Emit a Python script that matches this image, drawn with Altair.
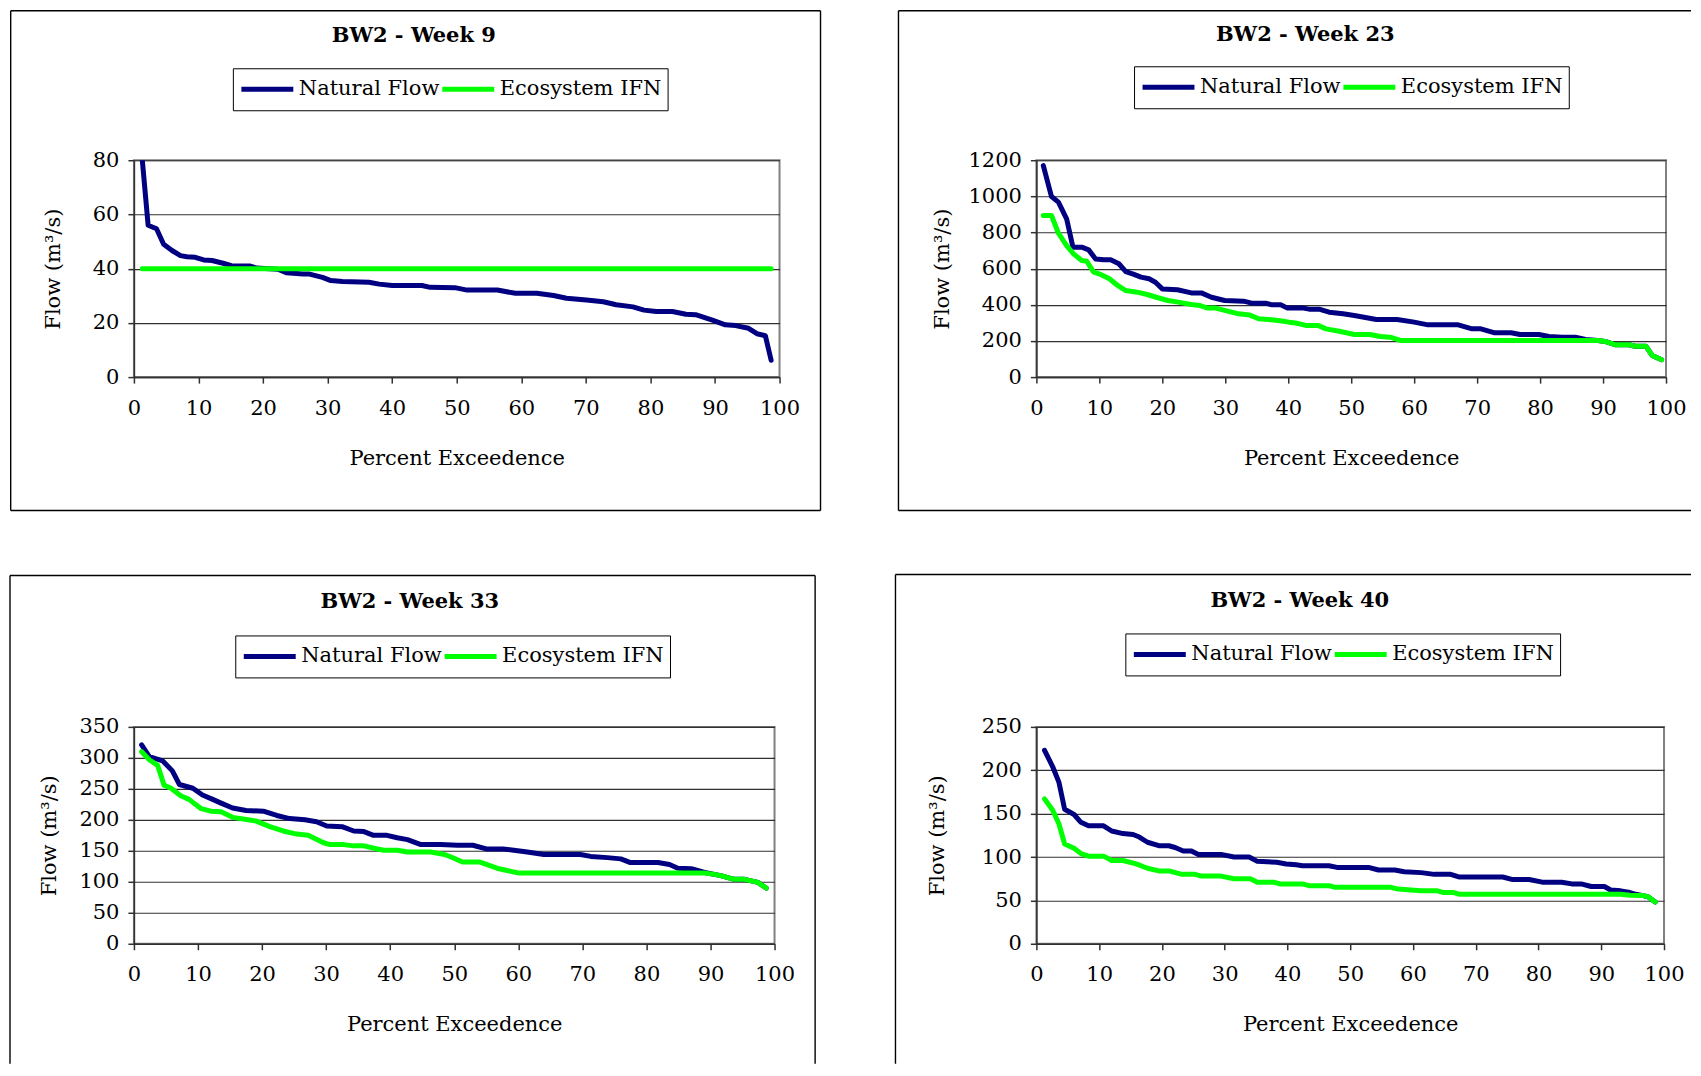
import altair as alt
import pandas as pd

FONT = "DejaVu Serif"
NAVY = "#000080"
GREEN = "#00FF00"
SERIES = ["Natural Flow", "Ecosystem IFN"]
TITLES = ["BW2 - Week 9", "BW2 - Week 23", "BW2 - Week 33", "BW2 - Week 40"]
X_TITLE = "Percent Exceedence"
Y_TITLE = "Flow (m³/s)"
X_TICKS = [0, 10, 20, 30, 40, 50, 60, 70, 80, 90, 100]
Y_TICKS_W9 = [0, 20, 40, 60, 80]
Y_TICKS_W23 = [0, 200, 400, 600, 800, 1000, 1200]
Y_TICKS_W33 = [0, 50, 100, 150, 200, 250, 300, 350]
Y_TICKS_W40 = [0, 50, 100, 150, 200, 250]

# ---- Week 9 ----
w9_nat_pct = [1.3, 2.2, 3.5, 4.6, 5.9, 7.2, 8.2, 9.5, 10.8, 12.1, 13.8, 15.1, 17.9, 19.0, 22.3,
              23.6, 26.2, 27.2, 29.2, 30.5, 32.3, 36.4, 38.0, 40.0, 44.6, 45.9, 49.7, 51.6, 56.3,
              59.1, 62.4, 65.0, 67.0, 70.1, 72.7, 74.7, 77.3, 79.0, 80.9, 83.4, 85.5, 87.0, 89.6,
              91.6, 93.2, 95.2, 96.5, 97.8, 98.7]
w9_nat_flow = [80, 56, 54.7, 49, 46.7, 44.8, 44.4, 44.2, 43.2, 43, 42, 41.1, 41, 40.2, 39.8,
               38.5, 38, 38, 36.8, 35.6, 35.3, 35, 34.3, 33.8, 33.8, 33.1, 33.0, 32.1, 32.1,
               30.9, 30.9, 30.1, 29.1, 28.4, 27.8, 26.7, 25.9, 24.7, 24.2, 24.2, 23.2, 23.0, 21.0,
               19.3, 19.0, 18.0, 16.0, 15.3, 6.2]
w9_ifn_pct = [1.3, 98.7]
w9_ifn_flow = [40, 40]

# ---- Week 23 ----
w23_nat_pct = [1.1, 2.4, 3.5, 4.8, 5.8, 7.2, 8.3, 9.4, 10.7, 11.8, 13.1, 14.2, 15.5, 16.6, 17.9,
               18.9, 20.0, 22.4, 24.6, 26.2, 27.8, 29.9, 32.9, 34.2, 36.4, 37.4, 38.8, 39.8, 42.2,
               43.3, 44.9, 46.5, 48.7, 50.5, 54.0, 57.3, 60.0, 62.2, 67.0, 69.2, 70.6, 72.8, 75.4,
               76.8, 79.8, 81.4, 83.5, 85.6, 87.2, 89.2, 90.3, 91.9, 94.1, 95.1, 96.8, 97.8, 99.3]
w23_nat_flow = [1170, 999, 968, 876, 719, 719, 704, 654, 649, 649, 627, 584, 568, 553, 544,
                525, 488, 483, 466, 466, 442, 424, 420, 409, 409, 400, 400, 383, 383,
                376, 376, 359, 350, 341, 319, 319, 304, 289, 289, 267, 267, 245, 245,
                236, 236, 225, 221, 221, 208, 203, 197, 179, 179, 171, 171, 120, 96]
w23_ifn_pct = [1.1, 2.4, 3.5, 4.8, 5.9, 7.2, 8.0, 9.1, 10.2, 11.6, 12.9, 14.2, 16.0, 17.6, 19.3,
               20.9, 22.5, 24.6, 26.0, 27.1, 28.3, 29.9, 32.1, 33.9, 35.3, 37.4, 39.0, 40.1, 41.2,
               42.8, 44.7, 46.0, 48.1, 50.5, 53.0, 54.6, 56.2, 57.8, 89.2, 90.3, 91.9, 94.1, 95.1,
               96.8, 97.8, 99.3]
w23_ifn_flow = [894, 894, 796, 728, 682, 645, 641, 581, 568, 544, 507, 479, 470, 457, 439,
                424, 415, 402, 396, 383, 383, 369, 350, 343, 323, 317, 310, 304, 299,
                286, 286, 267, 254, 236, 236, 225, 221, 203, 203, 197, 179, 179, 171,
                171, 120, 96]

# ---- Week 33 ----
w33_nat_pct = [1.2, 2.4, 4.5, 6.0, 7.1, 9.2, 10.7, 12.3, 13.6, 15.4, 17.5, 20.2, 22.3, 24.3, 26.7,
               28.5, 30.1, 32.5, 34.3, 35.9, 37.4, 39.5, 41.1, 42.7, 44.8, 47.9, 50.5, 52.9, 55.0,
               57.6, 59.3, 61.4, 64.0, 69.7, 71.3, 73.9, 76.0, 77.5, 81.8, 83.6, 84.9, 87.0, 89.1,
               90.6, 91.6, 93.7, 95.3, 97.4, 98.7]
w33_nat_flow = [321, 302, 295, 279, 257, 251, 240, 233, 227, 219, 215, 214, 207, 202, 200,
                197, 190, 189, 182, 181, 175, 175, 171, 168, 160, 160, 159, 159, 153,
                153, 151, 148, 144, 144, 141, 139, 137, 131, 131, 128, 122, 121, 115,
                112, 110, 104, 104, 99, 90]
w33_ifn_pct = [1.2, 2.4, 3.7, 4.7, 5.8, 7.3, 8.6, 10.5, 12.0, 13.6, 15.4, 17.8, 19.1, 21.2, 23.3,
               25.4, 27.2, 29.6, 30.6, 32.7, 34.3, 35.9, 38.0, 39.0, 41.1, 42.7, 46.3, 48.5, 49.5,
               51.3, 53.9, 57.0, 60.1, 89.1, 90.6, 91.6, 93.7, 95.3, 97.4, 98.7]
w33_ifn_flow = [310, 297, 288, 256, 251, 239, 233, 218, 214, 213, 204, 200, 198, 189, 182,
                177, 175, 163, 160, 160, 158, 158, 153, 151, 151, 148, 148, 144, 140,
                132, 132, 121, 114, 114, 112, 110, 104, 104, 99, 90]

# ---- Week 40 ----
w40_nat_pct = [1.3, 2.6, 3.6, 4.5, 6.0, 7.1, 8.3, 10.7, 12.0, 13.8, 15.4, 16.4, 17.7, 19.5, 21.1,
               22.1, 23.4, 24.7, 25.8, 29.4, 31.5, 33.9, 35.2, 38.3, 39.8, 41.4, 42.4, 46.6, 47.9,
               52.9, 54.5, 57.1, 58.6, 61.3, 63.4, 66.0, 67.3, 74.3, 75.9, 78.5, 80.6, 83.7, 85.3,
               86.8, 88.4, 90.5, 91.5, 93.1, 94.6, 95.5, 96.7, 97.5, 98.6]
w40_nat_flow = [223, 204, 186, 155, 149, 140, 136, 136, 130, 127, 126, 123, 117, 113, 113,
                111, 107, 107, 103, 103, 100, 100, 95, 94, 92, 91, 90, 90, 88,
                88, 85, 85, 83, 82, 80, 80, 77, 77, 74, 74, 71, 71, 69,
                69, 66, 66, 62, 61, 59, 57, 55.5, 54, 48]
w40_ifn_pct = [1.3, 2.6, 3.6, 4.5, 6.0, 7.1, 8.3, 10.7, 12.0, 13.8, 15.9, 17.7, 19.5, 21.1, 23.2,
               25.3, 26.3, 29.4, 31.5, 34.1, 35.2, 37.8, 38.8, 42.4, 43.4, 46.6, 47.6, 56.5, 57.6,
               61.3, 63.9, 64.9, 66.5, 67.5, 93.1, 94.6, 96.7, 97.5, 98.6]
w40_ifn_flow = [167, 154, 138, 115, 110, 104, 101, 101, 96, 96, 92, 87, 84, 84, 80,
                80, 78, 78, 75, 75, 71, 71, 69, 69, 67, 67, 65, 65, 63,
                61, 61, 59, 59, 57, 57, 56, 55.5, 54, 48]

PLOT_H = 217
AXIS_COLOR = "#303030"


def frame_rules(segments):
    layers = []
    one = alt.Data(values=[{"k": 0}])
    for (x1, y1, x2, y2) in segments:
        layers.append(
            alt.Chart(one).mark_rule(color="black", strokeWidth=1.4).encode(
                x=alt.value(x1), x2=alt.value(x2), y=alt.value(y1), y2=alt.value(y2)
            )
        )
    return layers


def panel(title, nat_pct, nat_flow, ifn_pct, ifn_flow, y_ticks, width, lay):
    df = pd.concat([
        pd.DataFrame({"pct": nat_pct, "flow": nat_flow, "series": SERIES[0]}),
        pd.DataFrame({"pct": ifn_pct, "flow": ifn_flow, "series": SERIES[1]}),
    ], ignore_index=True)

    x = alt.X("pct:Q", scale=alt.Scale(domain=[0, 100], nice=False, zero=False),
              axis=alt.Axis(values=X_TICKS, title=X_TITLE, grid=False, format="d",
                            labelFont=FONT, labelFontSize=21, labelColor="black",
                            labelPadding=14, labelFlush=False, labelOverlap=False,
                            tickSize=6, tickColor=AXIS_COLOR, tickWidth=1.5,
                            domainColor=AXIS_COLOR, domainWidth=1.5,
                            titleFont=FONT, titleFontSize=21, titleFontWeight="normal",
                            titleColor="black", titleY=87, titleBaseline="alphabetic"))
    y = alt.Y("flow:Q", scale=alt.Scale(domain=[y_ticks[0], y_ticks[-1]], nice=False),
              axis=alt.Axis(values=y_ticks, title=Y_TITLE, grid=True, format="d",
                            gridColor=AXIS_COLOR, gridWidth=1.1,
                            labelFont=FONT, labelFontSize=21, labelColor="black",
                            labelPadding=9, labelOverlap=False,
                            tickSize=6, tickColor=AXIS_COLOR, tickWidth=1.5,
                            domainColor=AXIS_COLOR, domainWidth=1.5,
                            titleFont=FONT, titleFontSize=21, titleFontWeight="normal",
                            titleColor="black", titleX=lay["ytx"], titleY=PLOT_H / 2,
                            titleAngle=270, titleBaseline="alphabetic", titleAlign="center"))
    color = alt.Color("series:N",
                      scale=alt.Scale(domain=SERIES, range=[NAVY, GREEN]),
                      legend=alt.Legend(orient="none", legendX=lay["lx"], legendY=lay["ly"],
                                        direction="horizontal", title=None,
                                        symbolType="stroke", symbolStrokeWidth=5,
                                        symbolSize=2700, clipHeight=30,
                                        labelFont=FONT, labelFontSize=21,
                                        labelColor="black", labelLimit=400, labelOffset=3,
                                        columnPadding=-1, padding=6,
                                        strokeColor="black", fillColor="white"))
    base = alt.Chart(df)
    nat = base.transform_filter(alt.datum.series == SERIES[0]).mark_line(
        strokeWidth=5, strokeCap="round", strokeJoin="round", clip=True
    ).encode(x=x, y=y, color=color, order="pct:Q")
    ifn = base.transform_filter(alt.datum.series == SERIES[1]).mark_line(
        strokeWidth=5, strokeCap="round", strokeJoin="round", clip=True
    ).encode(x=x, y=y, color=color, order="pct:Q")
    ttl = alt.Chart(alt.Data(values=[{"k": 0}])).mark_text(
        font=FONT, fontSize=21, fontWeight="bold", color="black",
        align="center", baseline="middle"
    ).encode(x=alt.value(lay["tx"]), y=alt.value(lay["ty"]), text=alt.value(title))
    return alt.layer(nat, ifn, ttl, *frame_rules(lay["frame"])).properties(
        width=width, height=PLOT_H
    )


W1, W2, W3, W4 = 646, 630, 641, 628
TOP1 = -149.5
lay1 = {"tx": 280, "ty": -124, "lx": 99, "ly": -92, "ytx": -74,
        "frame": [(-123.3, TOP1, 687, TOP1), (-123.3, 350.5, 687, 350.5),
                  (-123.3, TOP1, -123.3, 350.5), (687, TOP1, 687, 350.5)]}
lay2 = {"tx": 269, "ty": -125, "lx": 97.7, "ly": -94, "ytx": -88,
        "frame": [(-138, TOP1, 655, TOP1), (-138, 350.5, 655, 350.5),
                  (-138, TOP1, -138, 350.5)]}
lay3 = {"tx": 276, "ty": -124.5, "lx": 101.4, "ly": -91.5, "ytx": -78.5,
        "frame": [(-124, -151.5, 681.6, -151.5), (-124, -151.5, -124, 337),
                  (681.6, -151.5, 681.6, 337)]}
lay4 = {"tx": 263.5, "ty": -125.5, "lx": 89, "ly": -93.5, "ytx": -93,
        "frame": [(-141, -152.5, 655, -152.5), (-141, -152.5, -141, 337)]}

p1 = panel(TITLES[0], w9_nat_pct, w9_nat_flow, w9_ifn_pct, w9_ifn_flow, Y_TICKS_W9, W1, lay1)
p2 = panel(TITLES[1], w23_nat_pct, w23_nat_flow, w23_ifn_pct, w23_ifn_flow, Y_TICKS_W23, W2, lay2)
p3 = panel(TITLES[2], w33_nat_pct, w33_nat_flow, w33_ifn_pct, w33_ifn_flow, Y_TICKS_W33, W3, lay3)
p4 = panel(TITLES[3], w40_nat_pct, w40_nat_flow, w40_ifn_pct, w40_ifn_flow, Y_TICKS_W40, W4, lay4)

chart = alt.concat(
    p1, p2, p3, p4, columns=2,
    spacing={"row": 350, "column": 257}, bounds="flush"
).resolve_scale(
    x="independent", y="independent", color="independent"
).resolve_legend(color="independent").configure_view(
    stroke="#808080", strokeWidth=2
).properties(padding=0, background="white")

chart.save("out.html", embed_options={"renderer": "svg", "actions": False})
